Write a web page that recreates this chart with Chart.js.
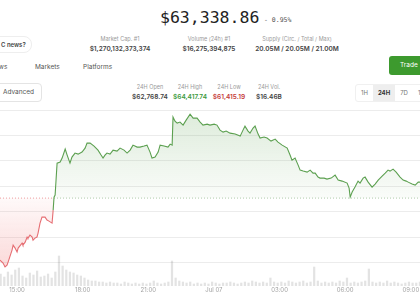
<!DOCTYPE html>
<html>
<head>
    <title>BTC 24H Chart</title>
    <script src="https://cdn.jsdelivr.net/npm/chart.js"></script>
    <style>
        body {
            margin: 0;
            width: 420px;
            height: 300px;
            overflow: hidden;
            position: relative;
            background: #fff;
            font-family: Inter, "Noto Sans", sans-serif;
            color: #333;
        }
        .abs { position: absolute; white-space: nowrap; }
        .price {
            left: 160px; top: 8px;
            font-family: "DejaVu Sans Mono", monospace;
            font-size: 16.5px;
            color: #222;
        }
        .change {
            left: 264px; top: 16px;
            font-family: "DejaVu Sans Mono", monospace;
            font-size: 6.5px;
            color: #555;
        }
        .stat { position: absolute; transform: translateX(-50%); text-align: center; white-space: nowrap; }
        .stat .lbl { font-size: 5.5px; color: #9a9a9a; }
        .stat .val { font-size: 6.5px; font-weight: 600; color: #444; margin-top: 3px; }
        .news {
            left: -20px; top: 36px; height: 15px; line-height: 15px;
            padding: 0 5px 0 20px;
            border: 1px solid #eee; border-radius: 8px;
            font-size: 6px; font-weight: 600; color: #444;
        }
        .trade {
            left: 389px; top: 56px; width: 40px; height: 19px; line-height: 19px;
            background: #3d9a2e; color: #fff; border-radius: 3px;
            font-size: 6.5px; padding-left: 11px; box-sizing: border-box;
        }
        .nav { top: 63px; font-size: 6.5px; color: #555; }
        .adv {
            left: -4px; top: 83px; height: 17px; line-height: 17px;
            padding: 0 7px 0 6px;
            border: 1px solid #e4e4e4; border-radius: 4px;
            font-size: 6.5px; color: #555;
        }
        .range {
            left: 355px; top: 84px; height: 16px; line-height: 16px;
            border: 1px solid #f0f0f0; border-radius: 3px;
            font-size: 6px; color: #777; display: flex;
        }
        .range span { padding: 0 5px; }
        .range .on { background: #eee; color: #333; font-weight: 700; }
        .chart-box { position: absolute; left: 0; top: 100px; width: 460px; height: 200px; }
    </style>
</head>
<body>
    <div class="abs price">$63,338.86</div>
    <div class="abs change">- 0.95%</div>
    <div class="abs news">C news?</div>

    <div class="stat" style="left:120px; top:36px;"><div class="lbl">Market Cap. #1</div><div class="val">$1,270,132,373,374</div></div>
    <div class="stat" style="left:209px; top:36px;"><div class="lbl">Volume (24h) #1</div><div class="val">$16,275,394,875</div></div>
    <div class="stat" style="left:297px; top:36px;"><div class="lbl">Supply (Circ. / Total / Max)</div><div class="val">20.05M / 20.05M / 21.00M</div></div>

    <div class="abs trade">Trade</div>
    <div class="abs nav" style="left:-10px;">News</div>
    <div class="abs nav" style="left:35px;">Markets</div>
    <div class="abs nav" style="left:83px;">Platforms</div>

    <div class="abs adv">Advanced</div>
    <div class="stat" style="left:150px; top:84px;"><div class="lbl">24H Open</div><div class="val">$62,768.74</div></div>
    <div class="stat" style="left:190px; top:84px;"><div class="lbl">24H High</div><div class="val" style="color:#3d9a3d;">$64,417.74</div></div>
    <div class="stat" style="left:229px; top:84px;"><div class="lbl">24H Low</div><div class="val" style="color:#c43a3a;">$61,415.19</div></div>
    <div class="stat" style="left:269px; top:84px;"><div class="lbl">24H Vol.</div><div class="val">$16.46B</div></div>

    <div class="abs range"><span>1H</span><span class="on">24H</span><span>7D</span><span>1M</span></div>

    <div class="chart-box">
        <canvas id="priceChart"></canvas>
    </div>

    <script>
        // 24H open is the baseline for the green / red fill
        const openPrice = 62768.74;

        // price points: hour of day (Jul 06, >24 = Jul 07) and USD price
        const priceHours = [
            14.22, 14.36, 14.45, 14.54, 14.59, 14.77, 14.82, 14.91, 15.00, 15.05,
            15.23, 15.27, 15.37, 15.46, 15.50, 15.59, 15.69, 15.73, 15.82, 15.91,
            15.96, 16.05, 16.14, 16.28, 16.37, 16.46, 16.60, 16.65, 16.69, 16.74,
            16.83, 16.97, 17.06, 17.20, 17.29, 17.42, 17.51, 17.65, 17.79, 17.97,
            18.11, 18.20, 18.34, 18.52, 18.70, 18.84, 18.93, 19.02, 19.11, 19.25,
            19.39, 19.57, 19.71, 19.89, 20.03, 20.17, 20.30, 20.49, 20.62, 20.81,
            20.94, 21.08, 21.17, 21.31, 21.45, 21.54, 21.72, 21.90, 22.00, 22.09,
            22.13, 22.22, 22.32, 22.45, 22.59, 22.73, 22.91, 23.05, 23.23, 23.37,
            23.50, 23.69, 23.82, 24.01, 24.14, 24.28, 24.42, 24.56, 24.74, 24.97,
            25.20, 25.33, 25.42, 25.56, 25.65, 25.79, 25.88, 26.02, 26.11, 26.29,
            26.43, 26.61, 26.80, 26.93, 27.12, 27.35, 27.48, 27.57, 27.71, 27.85,
            27.94, 28.08, 28.26, 28.40, 28.53, 28.63, 28.76, 28.85, 29.04, 29.17,
            29.36, 29.54, 29.68, 29.86, 30.09, 30.18, 30.23, 30.32, 30.45, 30.59,
            30.68, 30.82, 30.91, 31.05, 31.23, 31.37, 31.51, 31.69, 31.83, 31.96,
            32.05, 32.19, 32.33, 32.51, 32.65, 32.79, 32.88, 33.06, 33.20, 33.34,
            33.43, 33.66, 34.11, 34.57, 35.16
        ];
        const prices = [
            61549, 61490, 61415, 61451, 61510, 61746, 61844, 61785, 61707, 61785,
            61884, 61844, 61903, 62002, 61982, 62041, 62002, 61943, 61982, 62002,
            62080, 62277, 62395, 62395, 62336, 62316, 62277, 62533, 62788, 62828,
            63457, 63477, 63556, 63733, 63615, 63457, 63575, 63654, 63634, 63674,
            63752, 63851, 63851, 63792, 63713, 63615, 63556, 63615, 63654, 63634,
            63713, 63693, 63752, 63713, 63654, 63713, 63811, 63772, 63772, 63792,
            63811, 63674, 63556, 63575, 63674, 63811, 63792, 63772, 63831, 63811,
            64362, 64283, 64244, 64264, 64205, 64303, 64418, 64342, 64342, 64264,
            64205, 64224, 64205, 64224, 64205, 64106, 64067, 64087, 64047, 64028,
            63988, 64106, 64185, 64087, 64047, 64146, 64185, 64028, 63949, 63969,
            63949, 63890, 63929, 63870, 63811, 63752, 63615, 63516, 63556, 63418,
            63319, 63300, 63280, 63319, 63260, 63260, 63182, 63162, 63162, 63142,
            63162, 63221, 63123, 63103, 63064, 62965, 62788, 62887, 62985, 63103,
            63064, 63162, 63182, 63083, 62985, 63044, 63123, 63201, 63260, 63319,
            63300, 63339, 63280, 63182, 63123, 63103, 63083, 63044, 63024, 63083,
            63083, 63064, 63103, 63142, 63123
        ];

        // 10 minute volume bars ($M), first bar at 14:15
        const volStartHour = 14.25;
        const volumes = [
            48, 36, 56, 44, 64, 72, 40, 32, 52, 44, 60, 36, 40, 48, 32, 56,
            120,
            80, 64, 56, 52, 44, 40,
            32, 24, 20, 20, 16, 16, 12, 16,
            12, 12, 8, 16, 12, 8, 12, 8, 12, 8, 12, 20, 12, 8, 12, 16,
            100, 32, 20, 16,
            12, 16, 8, 12, 8, 12, 8, 16, 12, 8, 12, 12, 16, 12, 8, 12, 16, 12, 20, 16,
            12, 16, 12, 32, 16, 12, 16, 12, 20, 16, 12, 16, 20, 12, 16,
            76, 20, 12,
            16, 12, 16, 12, 20, 16, 32, 12, 16, 12, 16, 20,
            68, 16,
            12, 16, 12, 20, 12, 16, 12, 8, 12, 16, 12, 12, 16, 12, 8, 12, 16, 12, 12, 16, 12, 8, 12
        ];
        const volHours = volumes.map((v, i) => volStartHour + i / 6);

        // x axis ticks
        const tickHours = [15, 18, 21, 24, 27, 30, 33];
        const tickLabels = ['15:00', '18:00', '21:00', 'Jul 07', '03:00', '06:00', '09:00'];

        const green = 'rgb(92, 160, 80)';
        const red = 'rgb(230, 110, 115)';

        function fillGradient(context) {
            const chart = context.chart;
            const area = chart.chartArea;
            if (!area) return 'transparent';
            const y0 = chart.scales.y.getPixelForValue(openPrice);
            const g = chart.ctx.createLinearGradient(0, area.top, 0, area.bottom);
            const mid = (y0 - area.top) / (area.bottom - area.top);
            g.addColorStop(0, 'rgba(92, 160, 80, 0.22)');
            g.addColorStop(mid, 'rgba(92, 160, 80, 0.03)');
            g.addColorStop(mid, 'rgba(240, 110, 110, 0.04)');
            g.addColorStop(1, 'rgba(240, 110, 110, 0.32)');
            return g;
        }

        const ctx = document.getElementById('priceChart').getContext('2d');
        const priceChart = new Chart(ctx, {
            data: {
                datasets: [
                    {
                        type: 'line',
                        data: priceHours.map((h, i) => ({ x: h, y: prices[i] })),
                        yAxisID: 'y',
                        borderColor: green,
                        borderWidth: 1.1,
                        pointRadius: 0,
                        tension: 0,
                        fill: { value: openPrice },
                        backgroundColor: fillGradient,
                        segment: {
                            borderColor: c => (c.p0.parsed.y < openPrice && c.p1.parsed.y < openPrice) ? red : green
                        },
                        order: 1
                    },
                    {
                        type: 'line',
                        data: [
                            { x: priceHours[0], y: openPrice },
                            { x: priceHours[28], y: openPrice },
                            { x: priceHours[priceHours.length - 1], y: openPrice }
                        ],
                        yAxisID: 'y',
                        borderWidth: 1,
                        borderDash: [1, 2],
                        pointRadius: 0,
                        fill: false,
                        segment: {
                            borderColor: c => c.p0DataIndex === 0 ? 'rgba(226, 96, 100, 0.6)' : 'rgba(110, 160, 100, 0.55)'
                        },
                        order: 2
                    },
                    {
                        type: 'bar',
                        data: volHours.map((h, i) => ({ x: h, y: volumes[i] })),
                        yAxisID: 'yv',
                        backgroundColor: 'rgba(0, 0, 0, 0.11)',
                        barThickness: 1.6,
                        order: 3
                    }
                ]
            },
            options: {
                responsive: true,
                maintainAspectRatio: false,
                animation: false,
                layout: { padding: { top: 5, bottom: 0, left: 0, right: 0 } },
                plugins: {
                    legend: { display: false },
                    tooltip: { enabled: false }
                },
                scales: {
                    x: {
                        type: 'linear',
                        offset: false,
                        min: 14.22,
                        max: 35.25,
                        grid: { display: false, drawTicks: false, offset: false },
                        border: { display: false },
                        afterBuildTicks: scale => {
                            scale.ticks = tickHours.map(v => ({ value: v }));
                        },
                        afterFit: scale => {
                            scale.height = 14;
                            scale.paddingLeft = 0;
                            scale.paddingRight = 0;
                        },
                        ticks: {
                            padding: 1,
                            maxRotation: 0,
                            autoSkip: false,
                            color: '#a3a3a3',
                            font: { size: 6, family: 'Inter' },
                            callback: (v, i) => tickLabels[i]
                        }
                    },
                    y: {
                        min: 61040,
                        max: 64600,
                        afterBuildTicks: scale => {
                            const t = [];
                            for (let v = 61500; v <= 64500; v += 500) t.push({ value: v });
                            scale.ticks = t;
                        },
                        afterFit: scale => {
                            scale.width = 0;
                            scale.paddingTop = 0;
                            scale.paddingBottom = 0;
                        },
                        ticks: { display: false },
                        grid: { color: '#ececec', drawTicks: false },
                        border: { display: false }
                    },
                    yv: {
                        display: false,
                        min: 0,
                        max: 724
                    }
                }
            }
        });
    </script>
</body>
</html>
